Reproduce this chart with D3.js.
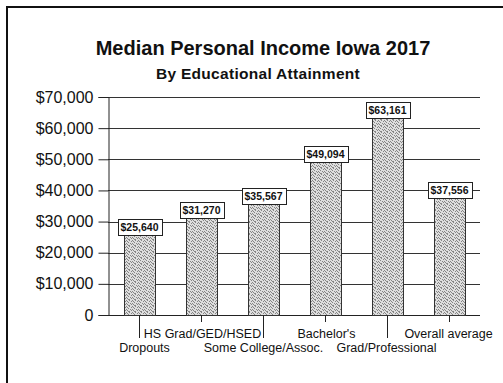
<!DOCTYPE html>
<html>
<head>
<meta charset="utf-8">
<script src="https://cdn.jsdelivr.net/npm/d3@7"></script>
<style>
  html, body { margin: 0; padding: 0; background: #fff; }
  svg { display: block; font-family: Arial, "Liberation Sans", sans-serif; }
</style>
</head>
<body>
<svg id="chart" width="503" height="383"></svg>
<script>
// Median personal income by educational attainment, Iowa 2017
const categories = ["Dropouts", "HS Grad/GED/HSED", "Some College/Assoc.", "Bachelor's", "Grad/Professional", "Overall average"];
const incomes = [25640, 31270, 35567, 49094, 63161, 37556];
const yTicks = [0, 10000, 20000, 30000, 40000, 50000, 60000, 70000];
const titleText = "Median Personal Income Iowa 2017";
const subtitleText = "By Educational Attainment";

const svg = d3.select("#chart");
const W = 503, H = 383;
const plot = { left: 108, right: 480, top: 97, bottom: 315 };

// frame around the chart
svg.append("path")
  .attr("d", `M7,${H} L7,7 L${W},7`)
  .attr("fill", "none").attr("stroke", "#111").attr("stroke-width", 2);

// stippled fill for the bars
const defs = svg.append("defs");
const pat = defs.append("pattern").attr("id", "stipple")
  .attr("patternUnits", "userSpaceOnUse").attr("width", 6).attr("height", 6);
pat.append("rect").attr("width", 6).attr("height", 6).attr("fill", "#dedede");
[[0,0],[3,0],[1,1],[5,1],[2,2],[4,3],[0,3],[1,4],[5,4],[3,5],[2,5]].forEach(([px, py]) => {
  pat.append("rect").attr("x", px).attr("y", py).attr("width", 1).attr("height", 1).attr("fill", "#858585");
});

const x = d3.scaleBand().domain(categories).range([plot.left, plot.right]).paddingInner(0.5).paddingOuter(0.25);
const y = d3.scaleLinear().domain([0, 70000]).range([plot.bottom, plot.top]);

// titles
svg.append("text").attr("x", 263).attr("y", 55).attr("text-anchor", "middle")
  .attr("font-size", 20).attr("font-weight", "bold").attr("fill", "#111").text(titleText);
svg.append("text").attr("x", 258).attr("y", 79).attr("text-anchor", "middle")
  .attr("font-size", 15.5).attr("font-weight", "bold").attr("fill", "#111")
  .attr("letter-spacing", 0.3).text(subtitleText);

// gridlines
svg.append("g").selectAll("line").data(yTicks.filter(d => d > 0)).join("line")
  .attr("x1", plot.left).attr("x2", plot.right)
  .attr("y1", d => Math.round(y(d)) + 0.5).attr("y2", d => Math.round(y(d)) + 0.5)
  .attr("stroke", "#333").attr("stroke-width", 1);

// y axis
const yAxis = d3.axisLeft(y).tickValues(yTicks).tickSize(10).tickPadding(5)
  .tickFormat(d => d === 0 ? "0" : d3.format("$,")(d));
const gy = svg.append("g").attr("transform", `translate(${plot.left + 0.5},0)`).call(yAxis);
gy.select(".domain").attr("stroke", "#222");
gy.selectAll(".tick line").attr("stroke", "#222");
gy.selectAll(".tick text").attr("font-size", 16).attr("fill", "#111")
  .attr("font-family", "Arial, 'Liberation Sans', sans-serif");

// x axis baseline
svg.append("line").attr("x1", plot.left).attr("x2", plot.right)
  .attr("y1", plot.bottom + 0.5).attr("y2", plot.bottom + 0.5).attr("stroke", "#222");

// bars
svg.append("g").selectAll("rect").data(incomes).join("rect")
  .attr("x", (d, i) => Math.round(x(categories[i])) + 0.5)
  .attr("y", d => Math.round(y(d)) + 0.5)
  .attr("width", Math.round(x.bandwidth()))
  .attr("height", d => Math.round(y(0)) - Math.round(y(d)))
  .attr("fill", "url(#stipple)").attr("stroke", "#333").attr("stroke-width", 1);

// category ticks and staggered labels
const cx = c => Math.round(x(c) + x.bandwidth() / 2) + 0.5;
const labelShift = [5, 1, 0, 1, -1, -1];
const xg = svg.append("g");
categories.forEach((c, i) => {
  const lower = i % 2 === 0;
  xg.append("line").attr("x1", cx(c)).attr("x2", cx(c))
    .attr("y1", plot.bottom).attr("y2", lower ? 338 : 322)
    .attr("stroke", "#222");
  xg.append("text").attr("x", cx(c) + labelShift[i]).attr("y", lower ? 352 : 338)
    .attr("text-anchor", "middle").attr("font-size", 12.5).attr("fill", "#111").text(c);
});

// value labels in boxes above each bar
const lg = svg.append("g");
incomes.forEach((v, i) => {
  const c = categories[i];
  const g = lg.append("g");
  const t = g.append("text").attr("x", cx(c)).attr("y", Math.round(y(v)) - 4)
    .attr("text-anchor", "middle").attr("font-size", 10.5).attr("font-weight", "bold")
    .attr("fill", "#111").text(d3.format("$,")(v));
  const bb = t.node().getBBox();
  g.insert("rect", "text")
    .attr("x", Math.round(bb.x - 3) + 0.5).attr("y", Math.round(y(v)) - 16 + 0.5)
    .attr("width", Math.round(bb.width + 6)).attr("height", 16)
    .attr("fill", "#fff").attr("stroke", "#222");
});
</script>
</body>
</html>
